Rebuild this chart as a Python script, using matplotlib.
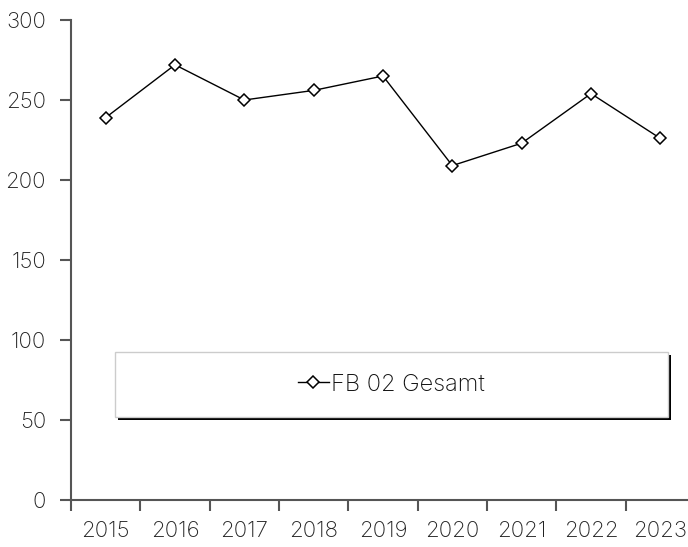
import matplotlib
matplotlib.use('Agg')
import matplotlib.pyplot as plt
import matplotlib.transforms as mtransforms
from matplotlib.patches import Rectangle

# data
years = ['2015', '2016', '2017', '2018', '2019', '2020', '2021', '2022', '2023']
fb02_gesamt = [239, 272, 250, 256, 265, 209, 223, 254, 226]
series_label = 'FB 02 Gesamt'
y_ticks = [0, 50, 100, 150, 200, 250, 300]

plt.rcParams['font.family'] = ['Inter', 'DejaVu Sans']
plt.rcParams['font.weight'] = 'light'

W, H = 688, 547
fig = plt.figure(figsize=(W / 100, H / 100), dpi=100)
# axes runs past the right edge of the figure, like the reference
ax = fig.add_axes([71 / W, 47 / H, 624 / W, 480 / H])

x = list(range(len(years)))
ax.plot(x, fb02_gesamt, color='black', lw=1, marker='D', markersize=6.5,
        markerfacecolor='white', markeredgecolor='black', markeredgewidth=1.1,
        label=series_label, clip_on=False)

ax.set_xlim(-0.5, len(years) - 0.5)
ax.set_ylim(0, 300)
ax.set_yticks(y_ticks)
ax.set_xticks([i - 0.5 for i in range(len(years))])
ax.set_xticklabels([])
ax.set_xticks(x, minor=True)
ax.set_xticklabels(years, minor=True)
ax.tick_params(axis='both', which='major', length=8, width=1.5, color='#555555',
               labelsize=16, labelcolor='#222222')
ax.tick_params(axis='x', which='minor', length=0, pad=15, labelsize=16, labelcolor='#222222')
ax.tick_params(axis='y', pad=10)

for side in ['top', 'right']:
    ax.spines[side].set_visible(False)
for side in ['left', 'bottom']:
    ax.spines[side].set_color('#555555')
    ax.spines[side].set_linewidth(1.5)

# legend box with hard black shadow
bx, by, bw, bh = 0.0705, 0.173, 0.886, 0.135
shift = mtransforms.ScaledTranslation(3 / 100, -3 / 100, fig.dpi_scale_trans)
ax.add_patch(Rectangle((bx, by), bw, bh, transform=ax.transAxes + shift,
                       facecolor='black', edgecolor='none', zorder=2.9))
ax.add_patch(Rectangle((bx, by), bw, bh, transform=ax.transAxes,
                       facecolor='white', edgecolor='#cccccc', lw=1, zorder=3))
leg = ax.legend(loc='center', bbox_to_anchor=(bx + bw / 2, by + bh / 2),
                frameon=False, fontsize=17, handlelength=1.3, handletextpad=0.1,
                labelcolor='#111111', markerscale=0.9)
leg.set_zorder(4)

fig.savefig('out.png', dpi=100)
